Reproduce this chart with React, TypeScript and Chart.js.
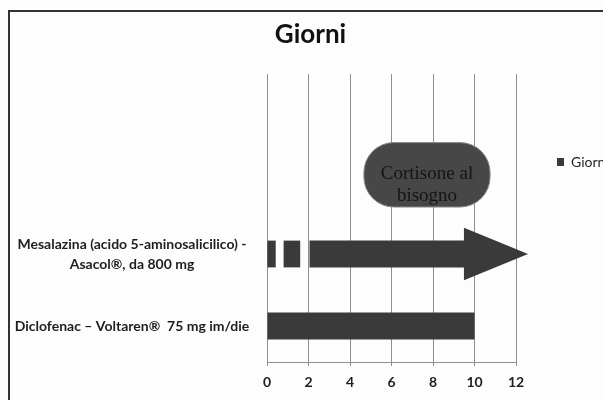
import React, { useEffect, useRef } from 'react';
import { Chart, registerables } from 'chart.js';

Chart.register(...registerables);

// ---- data ----
const categories: (string | string[])[] = [
  '',
  '',
  ['Mesalazina (acido 5-aminosalicilico) -', 'Asacol®, da 800 mg'],
  'Diclofenac – Voltaren®  75 mg im/die',
];
const seriesName = 'Giorni';
const chartTitle = 'Giorni';
const mainBars: ([number, number] | null)[] = [null, null, [2.05, 9.54], [0, 10]];
const segmentA: ([number, number] | null)[] = [null, null, [0.02, 0.42], null];
const segmentB: ([number, number] | null)[] = [null, null, [0.8, 1.6], null];
// callout box: x range in days, vertical centre in category-index units
const cortisoneRange: [number, number] = [4.67, 10.75];
const cortisoneRow = 0.9;
const cortisoneText = ['Cortisone al', 'bisogno'];
const arrowRow = 2;
const arrowTip = 12.58;
const xMin = 0;
const xMax = 12;
const xStep = 2;

const BAR = '#3a3a3a';
const GRID = '#8e8e8e';
const TEXT = '#1e1e1e';
const LABEL_FONT = 'Lato';
const LABEL_SIZE = 14;

const overlay = {
  id: 'overlay',
  beforeDatasetsDraw(chart: any) {
    // callout box, placed through the chart's own scales
    const ctx = chart.ctx as CanvasRenderingContext2D;
    const xs = chart.scales.x;
    const ys = chart.scales.y;
    const left = xs.getPixelForValue(cortisoneRange[0]);
    const right = xs.getPixelForValue(cortisoneRange[1]);
    const cy = ys.getPixelForValue(cortisoneRow);
    const band = Math.abs(ys.getPixelForValue(1) - ys.getPixelForValue(0));
    const h = band * 0.895;
    ctx.save();
    ctx.beginPath();
    (ctx as any).roundRect(left, cy - h / 2, right - left, h, 30);
    ctx.fillStyle = '#474747';
    ctx.fill();
    ctx.lineWidth = 1;
    ctx.strokeStyle = '#8a8a8a';
    ctx.stroke();
    ctx.fillStyle = '#141414';
    ctx.font = '19px "Liberation Serif", "DejaVu Serif", serif';
    ctx.textAlign = 'center';
    ctx.textBaseline = 'alphabetic';
    const cx = (left + right) / 2;
    cortisoneText.forEach((t, i) => {
      ctx.fillText(t, cx, cy + 4 + i * 22);
    });
    ctx.restore();
  },
  afterDatasetsDraw(chart: any) {
    const ctx = chart.ctx as CanvasRenderingContext2D;
    const xs = chart.scales.x;
    // arrow head on the shaft bar
    const el = chart.getDatasetMeta(0).data[arrowRow];
    if (el) {
      const { x, y, height } = el.getProps(['x', 'y', 'height'], true);
      const tip = xs.getPixelForValue(arrowTip);
      ctx.save();
      ctx.fillStyle = BAR;
      ctx.beginPath();
      ctx.moveTo(x - 1, y - height * 0.98);
      ctx.lineTo(tip, y);
      ctx.lineTo(x - 1, y + height * 0.98);
      ctx.closePath();
      ctx.fill();
      ctx.restore();
    }
  },
};

export default function App() {
  const ref = useRef<HTMLCanvasElement | null>(null);

  useEffect(() => {
    if (!ref.current) return;
    const mctx = document.createElement('canvas').getContext('2d')!;
    mctx.font = `bold ${LABEL_SIZE}px ${LABEL_FONT}`;
    let widest = 0;
    categories.forEach((c) => {
      (Array.isArray(c) ? c : [c]).forEach((line) => {
        widest = Math.max(widest, mctx.measureText(line).width);
      });
    });
    const yPad = Math.max(0, 135 - widest / 2);

    const barCommon = {
      backgroundColor: BAR,
      borderWidth: 0,
      grouped: false,
      categoryPercentage: 1,
      barPercentage: 0.372,
    };

    const chart = new Chart(ref.current, {
      type: 'bar',
      data: {
        labels: categories as any,
        datasets: [
          { label: seriesName, data: mainBars as any, ...barCommon },
          { label: 'a', data: segmentA as any, ...barCommon },
          { label: 'b', data: segmentB as any, ...barCommon },
        ],
      },
      options: {
        indexAxis: 'y',
        responsive: false,
        animation: false,
        layout: { padding: { left: 0, right: 39, top: 0, bottom: 0 } },
        scales: {
          x: {
            type: 'linear',
            min: xMin,
            max: xMax,
            ticks: {
              stepSize: xStep,
              color: TEXT,
              padding: 8,
              font: { family: LABEL_FONT, size: 14, weight: 'bold' },
            },
            grid: { color: GRID, tickLength: 4, lineWidth: 1 },
            border: { color: GRID, width: 1 },
            afterFit: (s: any) => {
              s.height = 40;
            },
          },
          y: {
            type: 'category',
            ticks: {
              crossAlign: 'center',
              padding: yPad,
              color: TEXT,
              font: { family: LABEL_FONT, size: LABEL_SIZE, weight: 'bold', lineHeight: 1.43 },
            },
            grid: { display: false, drawTicks: false },
            border: { display: false },
            afterFit: (s: any) => {
              s.width = 257;
            },
          },
        },
        plugins: {
          title: {
            display: true,
            text: chartTitle,
            color: '#111',
            font: { family: LABEL_FONT, size: 26, weight: 'bold', lineHeight: 1.2 },
            padding: { top: 7, bottom: 23.8 },
          },
          legend: {
            display: true,
            position: 'right',
            align: 'start',
            maxWidth: 95,
            title: { display: true, text: ' ', padding: { top: 87.6, bottom: 0 } },
            labels: {
              boxWidth: 7,
              boxHeight: 8,
              padding: 41,
              color: TEXT,
              font: { family: LABEL_FONT, size: 14 },
              filter: (item: any) => item.datasetIndex === 0,
            },
          },
          tooltip: { enabled: false },
        },
      } as any,
      plugins: [overlay],
    });
    return () => chart.destroy();
  }, []);

  return (
    <div
      style={{
        position: 'fixed',
        left: 0,
        top: 0,
        width: 603,
        height: 400,
        overflow: 'hidden',
        background: '#fdfdfd',
      }}
    >
      <div
        style={{
          position: 'absolute',
          left: 8,
          top: 10,
          width: 700,
          height: 450,
          borderLeft: '2px solid #333',
          borderTop: '2px solid #333',
        }}
      >
        <canvas ref={ref} width={640} height={390} style={{ display: 'block' }} />
      </div>
    </div>
  );
}
